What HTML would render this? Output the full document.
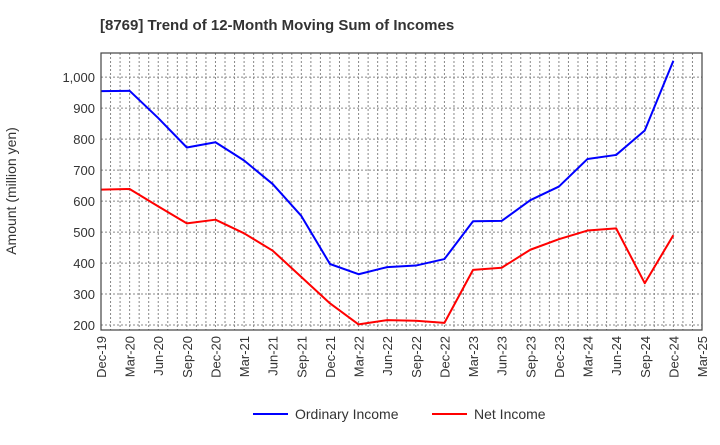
<!DOCTYPE html>
<html><head><meta charset="utf-8"><style>
body{margin:0;background:#fff;font-family:"Liberation Sans",sans-serif}
svg text{font-family:"Liberation Sans",sans-serif}
</style></head><body>
<svg id="c" width="720" height="440" xmlns="http://www.w3.org/2000/svg">
<text x="100" y="30" font-size="15" font-weight="bold" fill="#333">[8769]  Trend of 12-Month Moving Sum of Incomes</text>
<text transform="translate(16,191) rotate(-90)" text-anchor="middle" font-size="14" fill="#333">Amount (million yen)</text>
<g id="grid"></g><g id="series"></g><g id="axes"></g>
<g>
<line x1="253" y1="414" x2="288" y2="414" stroke="#0000ff" stroke-width="2"/>
<text x="295" y="419" font-size="14" fill="#333">Ordinary Income</text>
<line x1="432" y1="414" x2="467" y2="414" stroke="#ff0000" stroke-width="2"/>
<text x="474" y="419" font-size="14" fill="#333">Net Income</text>
</g>
</svg>
<script>
const categories=["Dec-19","Mar-20","Jun-20","Sep-20","Dec-20","Mar-21","Jun-21","Sep-21","Dec-21","Mar-22","Jun-22","Sep-22","Dec-22","Mar-23","Jun-23","Sep-23","Dec-23","Mar-24","Jun-24","Sep-24","Dec-24","Mar-25"];
const ordinaryIncome=[955,956,868,773,790,731,655,552,397,364,387,392,413,535,536,603,647,736,749,828,1053];
const netIncome=[637,639,583,528,540,496,440,355,270,202,216,214,207,378,385,443,477,505,512,335,490];
const yTicks=[200,300,400,500,600,700,800,900,1000];
const yTickLabels=["200","300","400","500","600","700","800","900","1,000"];
const L=101,R=702,T=53,B=330,yMin=184,yMax=1078;
const NS="http://www.w3.org/2000/svg";
const xMonth=m=>L+(R-L)*m/63;
const x=i=>xMonth(i*3);
const y=v=>B-(v-yMin)/(yMax-yMin)*(B-T);
function mk(p,t,a){const e=document.createElementNS(NS,t);for(const k in a)e.setAttribute(k,a[k]);document.getElementById(p).appendChild(e);return e;}
for(let m=1;m<63;m++){
 const e=mk("grid","line",{x1:xMonth(m),x2:xMonth(m),y1:T,y2:B,stroke:"#888","stroke-dasharray":"2,2","stroke-width":1});
 
 
}
yTicks.forEach((v,i)=>{
 const e=mk("grid","line",{x1:L,x2:R,y1:y(v),y2:y(v),stroke:"#888","stroke-dasharray":"2,2","stroke-width":1});
 
 
 const t=mk("axes","text",{x:L-6,y:y(v)+5,"text-anchor":"end","font-size":13,fill:"#333"});
 t.textContent=yTickLabels[i];
 
 
});
categories.forEach((c,i)=>{
 const t=mk("axes","text",{transform:`translate(${x(i)+5},${B+6}) rotate(-90)`,"text-anchor":"end","font-size":13,fill:"#333"});
 t.textContent=c;
 
 
});
const box=mk("axes","rect",{x:L,y:T,width:R-L,height:B-T,fill:"none",stroke:"#444","stroke-width":1.2});


function line(data,color,name){
 const p=mk("series","polyline",{points:data.map((v,i)=>x(i)+","+y(v)).join(" "),fill:"none",stroke:color,"stroke-width":2,"stroke-linejoin":"round"});
 
 
}
line(ordinaryIncome,"#0000ff","ordinary-income-line");
line(netIncome,"#ff0000","net-income-line");
</script>
</body></html>
